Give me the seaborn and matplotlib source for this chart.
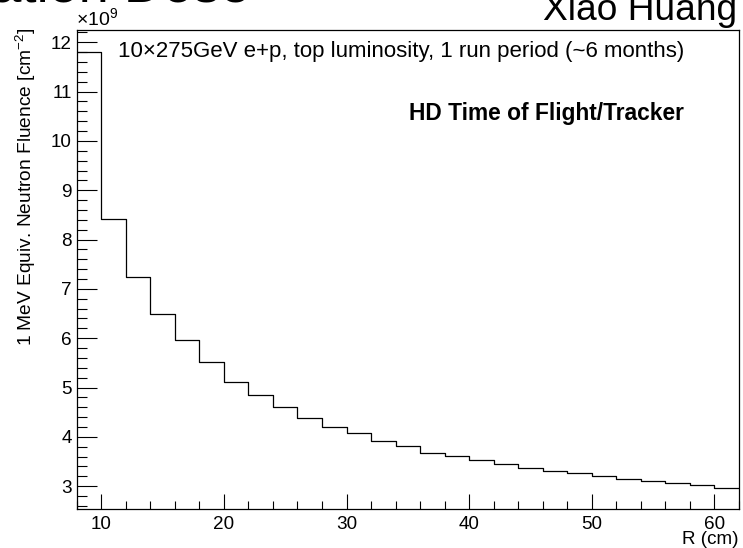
import numpy as np
import pandas as pd
import matplotlib
matplotlib.use("Agg")
import matplotlib.pyplot as plt
from matplotlib.ticker import MultipleLocator
import seaborn as sns

# bin edges of R (cm), 2 cm bins from 8 to 62
r_low = 8
r_high = 62
r_bin = 2
# fluence per bin, in units of 1e9 cm^-2
fluence = [11.80, 8.41, 7.25, 6.50, 5.96, 5.52, 5.12, 4.84, 4.60, 4.38,
           4.20, 4.07, 3.91, 3.81, 3.68, 3.62, 3.53, 3.44, 3.37, 3.30,
           3.26, 3.21, 3.15, 3.10, 3.06, 3.03, 2.97]
edges = np.arange(r_low, r_high + r_bin, r_bin)
centers = edges[:-1] + r_bin / 2
df = pd.DataFrame({"r": centers, "fluence": fluence})

sns.set_theme(style="white")
plt.rcParams["font.family"] = ["Liberation Sans", "DejaVu Sans"]
plt.rcParams["mathtext.fontset"] = "custom"
plt.rcParams["mathtext.rm"] = "Liberation Sans"
plt.rcParams["text.color"] = "black"
plt.rcParams["axes.labelcolor"] = "black"

fig = plt.figure(figsize=(7.43, 5.48), dpi=100)
ax = fig.add_axes([0.1032, 0.0706, 0.8914, 0.8747])

sns.histplot(data=df, x="r", weights="fluence", binwidth=r_bin,
             binrange=(r_low, r_high), element="step", fill=False,
             color="black", linewidth=0.9, ax=ax)

ax.set_xlim(r_low, r_high)
ax.set_ylim(2.53, 12.25)
ax.xaxis.set_major_locator(MultipleLocator(10))
ax.xaxis.set_minor_locator(MultipleLocator(2))
ax.yaxis.set_major_locator(MultipleLocator(1))
ax.yaxis.set_minor_locator(MultipleLocator(0.2))
ax.tick_params(axis="both", which="both", bottom=True, left=True,
               top=False, right=False)
ax.tick_params(axis="y", which="major", direction="in", length=14.4, width=0.8,
               color="black", labelsize=13.6, pad=3.6, labelcolor="black")
ax.tick_params(axis="y", which="minor", direction="in", length=7.2, width=0.8,
               color="black")
ax.tick_params(axis="x", which="major", direction="in", length=10.8, width=0.8,
               color="black", labelsize=13.6, pad=4.8, labelcolor="black")
ax.tick_params(axis="x", which="minor", direction="in", length=5.5, width=0.8,
               color="black")
for s in ax.spines.values():
    s.set_color("black")
    s.set_linewidth(0.9)

ax.set_xlabel("R (cm)", fontsize=13.6, loc="right")
ax.xaxis.set_label_coords(1.0, -0.046)
ax.set_ylabel("1 MeV Equiv. Neutron Fluence [cm$^{-2}$]", fontsize=13.8,
              loc="top")
ax.yaxis.set_label_coords(-0.058, 1.005)

ax.text(0.0624, 0.943, "10\u00d7275GeV e+p, top luminosity, 1 run period (~6 months)",
        transform=ax.transAxes, fontsize=16, va="baseline", ha="left")
ax.text(0.502, 0.812, "HD Time of Flight/Tracker", transform=ax.transAxes,
        fontsize=16.4, fontweight="bold", va="baseline", ha="left")
fig.text(0.102, 0.9526, "\u00d710$^{9}$", fontsize=14, va="baseline", ha="left")

# slide remnants around the plot
fig.text(0.992, 0.9635, "Xiao Huang", fontsize=26.7, va="baseline", ha="right")
fig.text(0.336, 0.998, "Radiation Dose", fontsize=39, va="baseline", ha="right")

fig.savefig("out.png", dpi=100)
